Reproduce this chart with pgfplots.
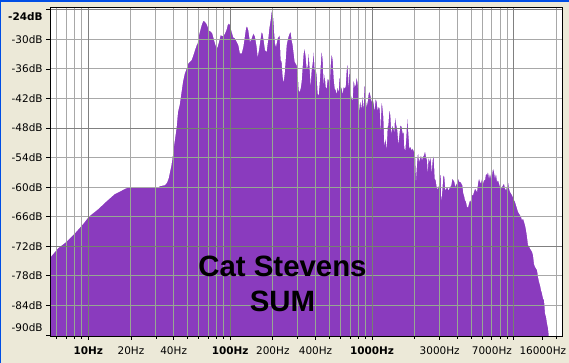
\documentclass[border=0pt]{standalone}
\usepackage{pgfplots}
\pgfplotsset{compat=1.18}
\usepackage{pgfplotstable}
\usepackage{fontspec}
\setmainfont{DejaVu Sans}
\newfontfamily\arialfont{Liberation Sans}
\definecolor{xpbeige}{RGB}{236,233,216}
\definecolor{xpblue}{RGB}{0,78,229}
\definecolor{specpurple}{RGB}{138,59,190}
\definecolor{gridlt}{RGB}{168,168,168}
\definecolor{griddk}{RGB}{128,128,128}
\definecolor{gridglt}{RGB}{150,182,145}
\definecolor{gridgdk}{RGB}{118,142,112}

\pgfplotstableread{
f db
5.383 -74.3
6.115 -72.4
7.0 -71.1
8.02 -69.4
9.18 -67.5
10.07 -66.0
11.70 -64.5
13.40 -62.9
15.35 -61.4
16.65 -60.9
18.23 -60.3
19.05 -60.1
31.00 -60.1
31.87 -59.8
34.56 -59.6
35.87 -59.1
36.88 -58.2
37.49 -57.2
38.48 -55.7
39.11 -54.4
40.21 -51.6
41.06 -49.8
42.01 -47.7
42.91 -44.7
44.10 -43.3
45.26 -41.0
46.52 -38.6
47.82 -37.0
49.37 -35.89
50.72 -34.88
52.12 -34.54
53.55 -34.20
55.02 -33.19
56.53 -32.17
58.08 -31.16
59.02 -30.82
60.32 -29.13
61.64 -28.11
62.99 -27.10
64.71 -26.22
66.49 -26.42
68.31 -26.89
70.19 -27.77
71.33 -28.25
73.28 -28.45
74.89 -28.79
76.53 -29.80
78.21 -30.82
80.35 -31.83
81.66 -31.49
83.46 -30.48
85.74 -29.13
88.09 -29.33
90.49 -29.13
91.98 -28.79
94.50 -27.97
96.05 -27.10
98.15 -26.76
99.75 -27.10
102.5 -28.45
105.3 -29.60
108.2 -29.80
111.2 -30.48
114.2 -31.16
117.3 -32.85
120.6 -32.85
123.9 -31.49
127.3 -29.13
129.3 -27.77
131.5 -27.30
134.3 -28.11
138.0 -30.48
141.8 -29.80
145.7 -28.79
149.7 -29.46
153.8 -31.49
156.3 -33.52
159.7 -32.17
163.3 -30.14
166.9 -28.45
169.6 -28.92
172.3 -30.14
176.1 -32.17
180.9 -32.51
185.9 -29.80
188.9 -27.77
193.0 -26.08
196.2 -24.39
199.4 -24.05
202.7 -26.76
203.8 -28.11
207.1 -30.82
210.5 -31.49
212.8 -30.82
216.2 -29.80
219.8 -29.46
223.4 -29.13
227.0 -34.20
230.8 -34.54
234.5 -37.58
238.4 -38.60
242.3 -36.91
246.3 -34.20
250.3 -31.16
254.4 -30.14
258.5 -29.33
262.8 -28.79
267.1 -28.45
271.4 -30.14
275.9 -31.16
280.4 -32.85
285.0 -34.54
289.6 -34.88
294.4 -35.22
299.2 -36.23
304.1 -40.29
309.0 -40.63
314.1 -39.95
319.2 -38.60
324.5 -35.55
329.8 -32.85
335.2 -31.83
340.7 -33.52
346.3 -35.89
351.9 -35.55
357.7 -32.51
363.5 -35.89
369.5 -39.28
375.5 -36.23
381.7 -34.88
387.9 -32.31
394.3 -36.23
400.7 -35.89
407.3 -37.25
414.0 -40.97
420.7 -41.31
427.6 -38.94
434.6 -35.55
441.7 -32.17
449.0 -34.20
456.3 -38.94
463.8 -36.91
471.4 -39.61
479.2 -39.95
487.0 -37.92
495.0 -38.26
503.1 -39.61
511.4 -35.22
519.7 -32.85
528.3 -34.20
536.9 -37.92
545.7 -39.95
554.7 -40.29
563.7 -40.97
573.0 -39.61
582.1 -40.63
591.6 -37.25
601.3 -39.61
611.2 -39.95
621.2 -40.97
631.2 -39.61
641.7 -39.95
652.2 -39.61
662.9 -36.23
673.7 -34.88
684.7 -39.61
696.0 -35.22
707.4 -40.97
718.9 -41.98
730.8 -42.32
742.7 -37.92
754.9 -39.61
767.1 -39.28
779.8 -37.58
792.5 -38.94
805.4 -41.64
818.6 -44.35
832.0 -42.32
845.4 -44.01
859.3 -41.31
873.4 -44.01
887.7 -38.60
902.2 -41.64
917.0 -43.67
931.9 -42.66
947.4 -40.97
962.9 -40.63
978.6 -41.64
994.5 -42.66
1011 -41.98
1027 -42.99
1044 -44.35
1061 -41.98
1079 -42.66
1096 -44.35
1114 -43.67
1132 -44.01
1139 -45.03
1151 -48.41
1170 -42.32
1202 -45.70
1222 -51.46
1249 -50.10
1269 -52.13
1290 -47.73
1304 -47.40
1325 -44.21
1347 -45.37
1369 -49.09
1391 -47.40
1414 -48.07
1437 -48.75
1453 -45.70
1476 -47.06
1508 -48.41
1533 -51.12
1558 -49.43
1584 -47.40
1618 -47.73
1645 -49.09
1672 -48.75
1690 -52.13
1718 -52.47
1746 -49.76
1775 -45.70
1804 -49.09
1834 -52.13
1863 -51.79
1904 -52.47
1935 -52.13
1977 -52.81
2010 -52.81
2042 -58.56
2076 -55.18
2110 -52.81
2145 -54.84
2180 -54.16
2215 -53.49
2251 -54.50
2288 -53.82
2326 -53.49
2364 -52.67
2402 -53.82
2442 -54.50
2468 -56.87
2508 -53.82
2550 -54.84
2591 -53.82
2634 -56.87
2677 -54.50
2721 -53.49
2765 -58.22
2810 -58.56
2856 -59.91
2903 -60.39
2951 -59.91
2999 -57.55
3048 -57.55
3081 -62.62
3132 -60.59
3183 -57.55
3236 -57.88
3288 -60.59
3342 -60.25
3396 -59.91
3452 -60.59
3509 -60.25
3567 -59.91
3625 -59.58
3684 -58.22
3744 -58.56
3806 -58.90
3868 -59.91
3931 -59.24
3995 -59.58
4061 -58.22
4127 -58.90
4195 -58.90
4264 -59.24
4333 -59.58
4404 -61.27
4476 -61.94
4524 -62.62
4598 -62.96
4674 -63.97
4750 -64.11
4828 -63.30
4907 -62.62
4988 -62.96
5069 -61.61
5152 -61.61
5236 -60.93
5322 -60.25
5409 -60.59
5498 -60.93
5587 -59.24
5679 -58.22
5772 -58.90
5866 -59.24
5962 -58.22
6060 -59.24
6159 -58.56
6260 -58.56
6362 -57.21
6467 -57.55
6572 -56.87
6680 -58.22
6789 -57.21
6900 -58.22
7013 -57.55
7128 -56.19
7244 -56.87
7363 -58.22
7483 -57.21
7606 -58.90
7730 -58.56
7857 -59.24
7985 -59.91
8116 -60.25
8248 -59.91
8383 -59.58
8520 -59.24
8660 -60.25
8801 -60.59
8946 -59.91
9092 -58.76
9241 -60.25
9392 -60.93
9546 -61.27
9702 -61.61
9862 -62.08
10023 -62.62
10188 -62.96
10354 -63.64
10524 -64.31
10696 -64.99
10871 -65.33
11049 -65.67
11230 -66.00
11414 -66.68
11601 -66.34
11791 -67.02
11984 -67.70
12180 -68.71
12379 -70.06
12582 -71.76
12788 -71.96
12998 -72.43
13210 -72.77
13427 -73.11
13646 -73.79
13870 -75.61
14097 -76.16
14328 -76.49
14562 -76.83
14801 -78.18
15043 -79.20
15290 -79.88
15540 -80.89
15794 -81.57
16053 -82.58
16316 -82.92
16583 -85.63
16855 -86.31
17131 -87.66
17411 -88.67
17601 -90.0
17650 -96
22050 -96
}\spectrum

\begin{document}
\begin{tikzpicture}
\path[use as bounding box] (0,0) rectangle (569bp,363bp);
\fill[xpbeige] (0,0) rectangle (569bp,363bp);
\fill[xpblue] (0,361bp) rectangle (569bp,363bp);
\fill[xpblue] (0,0) rectangle (1bp,363bp);

\begin{axis}[
  scale only axis, width=512.5bp, height=328.7bp,
  at={(50.1bp,27bp)}, anchor=south west,
  xmode=log, xmin=5.383, xmax=22050, ymin=-90.2, ymax=-23.5,
  xtick={10,100,1000,10000},
  minor xtick={6,7,8,9,20,30,40,50,60,70,80,90,200,300,400,500,600,700,800,900,2000,3000,4000,5000,6000,7000,8000,9000,20000},
  ytick={-72,-48,-24},
  minor ytick={-84,-78,-66,-60,-54,-42,-36,-30},
  grid=both,
  axis background/.style={fill=specpurple},
  major grid style={draw=gridgdk, line width=1bp},
  minor grid style={draw=gridglt, line width=1bp},
  xticklabels={}, yticklabels={},
  major tick length=0pt, minor tick length=0pt,
  axis line style={draw=none}]
\addplot[draw=none, fill=white] table[x=f, y=db] {\spectrum} -- (rel axis cs:1,1) -- (rel axis cs:0,1) -- cycle;
\end{axis}

\begin{scope}[blend mode=darken]
\begin{axis}[
  scale only axis, width=512.5bp, height=328.7bp,
  at={(50.1bp,27bp)}, anchor=south west,
  xmode=log, xmin=5.383, xmax=22050, ymin=-90.2, ymax=-23.5,
  xtick={10,100,1000,10000},
  minor xtick={6,7,8,9,20,30,40,50,60,70,80,90,200,300,400,500,600,700,800,900,2000,3000,4000,5000,6000,7000,8000,9000,20000},
  ytick={-72,-48,-24},
  minor ytick={-84,-78,-66,-60,-54,-42,-36,-30},
  grid=both,
  major grid style={draw=griddk, line width=1bp},
  minor grid style={draw=gridlt, line width=1bp},
  axis line style={line width=1bp, black},
  tick align=outside, xtick pos=left, ytick pos=left,
  major tick length=4bp, minor tick length=3bp,
  tick style={black, line width=0.8bp},
  tick label style={font=\fontsize{10.5}{12}\selectfont},
  xticklabel style={yshift=-3bp},
  xticklabels={\textbf{10Hz},\textbf{100Hz},\textbf{1000Hz},{}},
  yticklabels={-72dB,-48dB,\raisebox{-6.5bp}[\height][\depth]{\textbf{-24dB}}},
  extra x ticks={20,40,200,400,3000,7000,16000},
  extra x tick labels={20Hz,40Hz,200Hz,400Hz,3000Hz,7000Hz,16000Hz},
  extra y ticks={-90,-84,-78,-66,-60,-54,-42,-36,-30},
  extra y tick labels={\raisebox{7bp}[\height][\depth]{-90dB},-84dB,-78dB,-66dB,-60dB,-54dB,-42dB,-36dB,-30dB},
  extra tick style={grid=none},
]
\end{axis}
\end{scope}

\node[font=\arialfont\bfseries\fontsize{29.5}{30}\selectfont, anchor=base] at (282.5bp,86.3bp) {Cat Stevens};
\node[font=\arialfont\bfseries\fontsize{29.5}{30}\selectfont, anchor=base] at (282.5bp,51.3bp) {SUM};
\end{tikzpicture}
\end{document}
